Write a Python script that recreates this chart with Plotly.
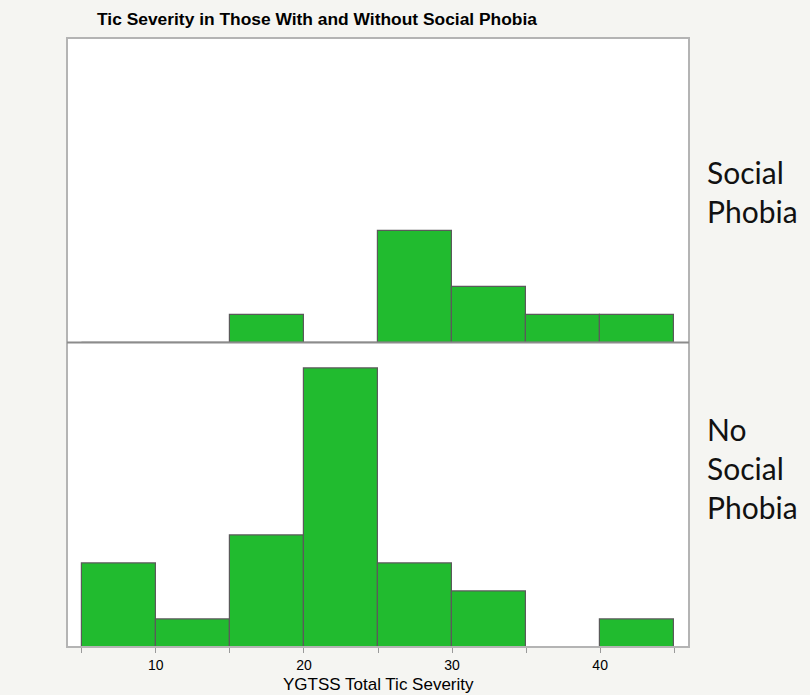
import plotly.graph_objects as go

# Histogram bins (width 5) of YGTSS total tic severity
bin_starts = [5, 10, 15, 20, 25, 30, 35, 40]
bin_width = 5
counts_social = [0, 0, 1, 0, 4, 2, 1, 1]
counts_no_social = [3, 1, 4, 10, 3, 2, 0, 1]

tick_vals = [5, 10, 15, 20, 25, 30, 35, 40, 45]
tick_text = ["", "10", "", "20", "", "30", "", "40", ""]

bar_green = "#21bb2f"
bar_edge = "#5a5a5a"
bg = "#f5f5f2"
sans = "Liberation Sans, Arial, sans-serif"

centers = [s + bin_width / 2 for s in bin_starts]

fig = go.Figure()

bar_style = dict(
    width=bin_width,
    marker=dict(color=bar_green, line=dict(color=bar_edge, width=1.2)),
    showlegend=False,
    hoverinfo="x+y",
)

fig.add_trace(go.Bar(x=centers, y=counts_social, xaxis="x2", yaxis="y2", **bar_style))
fig.add_trace(go.Bar(x=centers, y=counts_no_social, xaxis="x", yaxis="y", **bar_style))

y_max = 10.93
x_range = [4, 46]
plot_h = 695 - 38 - 48

fig.update_layout(
    width=810,
    height=695,
    margin=dict(l=67, r=121, t=38, b=48, autoexpand=False),
    paper_bgcolor=bg,
    plot_bgcolor="white",
    bargap=0,
    title=dict(
        text="<b>Tic Severity in Those With and Without Social Phobia</b>",
        x=97 / 810, xanchor="left",
        y=1 - 19 / 695, yanchor="middle",
        font=dict(family=sans, size=17.4, color="black"),
    ),
    xaxis=dict(
        domain=[0, 1], anchor="y", range=x_range, automargin=False,
        tickmode="array", tickvals=tick_vals, ticktext=tick_text,
        ticks="outside", ticklen=5, tickcolor="#9a9a9a", tickwidth=1,
        showgrid=False, zeroline=False, showline=False,
        tickfont=dict(family=sans, size=14, color="black"),
    ),
    yaxis=dict(domain=[0, 0.5], anchor="x", range=[0, y_max], automargin=False,
               showticklabels=False, showgrid=False, zeroline=False, ticks=""),
    xaxis2=dict(domain=[0, 1], anchor="y2", range=x_range, matches="x", automargin=False,
                showticklabels=False, showgrid=False, zeroline=False, ticks=""),
    yaxis2=dict(domain=[0.5, 1], anchor="x2", range=[0, y_max], automargin=False,
                showticklabels=False, showgrid=False, zeroline=False, ticks=""),
    shapes=[
        dict(type="rect", xref="paper", yref="paper", x0=0, x1=1, y0=0, y1=1,
             line=dict(color="#b4b4b4", width=2), layer="above"),
        dict(type="line", xref="paper", yref="paper", x0=0, x1=1, y0=0.5, y1=0.5,
             line=dict(color="#8c8c8c", width=2), layer="above"),
    ],
    annotations=[
        dict(text="YGTSS Total Tic Severity", xref="paper", yref="paper",
             x=0.5, xanchor="center", y=-(684 - 647) / plot_h, yanchor="middle",
             showarrow=False, font=dict(family=sans, size=17, color="black")),
        dict(text="Social<br>Phobia", xref="paper", yref="paper",
             x=1, xshift=16, xanchor="left", y=1 - (191 - 38) / plot_h, yanchor="middle",
             align="left", showarrow=False,
             font=dict(family="Lato, sans-serif", size=30, color="#111")),
        dict(text="No<br>Social<br>Phobia", xref="paper", yref="paper",
             x=1, xshift=16, xanchor="left", y=1 - (468 - 38) / plot_h, yanchor="middle",
             align="left", showarrow=False,
             font=dict(family="Lato, sans-serif", size=30, color="#111")),
    ],
)

fig.write_html("out.html")
